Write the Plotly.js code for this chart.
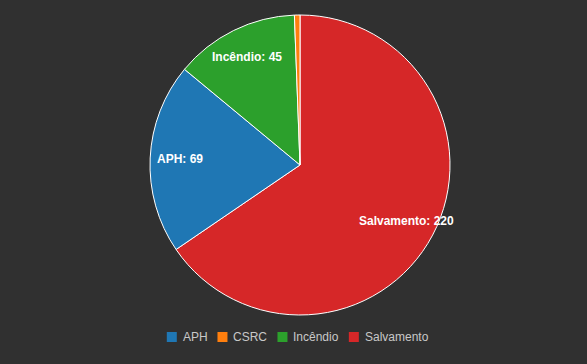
<!DOCTYPE html>
<html><head><meta charset="utf-8">
<script src="https://cdn.plot.ly/plotly-3.0.1.min.js"></script>
<style>html,body{margin:0;padding:0;background:#303030;}</style>
</head><body>
<div id="chart" style="width:587px;height:364px;"></div>
<script>
const labels = ["APH", "CSRC", "Incêndio", "Salvamento"];
const values = [69, 2, 45, 220];
const colors = ["#1f77b4", "#ff7f0e", "#2ca02c", "#d62728"];

const W = 587, H = 364;
const M = {t: 15, b: 49, l: 13, r: 0};
const pw = W - M.l - M.r, ph = H - M.t - M.b;
const R = Math.min(pw, ph) / 2;
const cx = M.l + pw / 2, cy = M.t + ph / 2;
const px2x = p => (p - M.l) / pw;
const py2y = p => (H - M.b - p) / ph;

// slice labels on bisectors (same order as plotly: sorted desc, clockwise from top)
const total = values.reduce((a, b) => a + b, 0);
const order = values.map((v, i) => i).sort((a, b) => values[b] - values[a]);
const annotations = [];
let cum = 0;
order.forEach(i => {
  const mid = (cum + values[i] / 2) / total * 2 * Math.PI;
  cum += values[i];
  if (values[i] / total < 0.02) return;
  const x = cx + 0.8 * R * Math.sin(mid);
  const y = cy - 0.8 * R * Math.cos(mid);
  annotations.push({
    xref: "paper", yref: "paper", x: px2x(x), y: py2y(y),
    xanchor: "center", yanchor: "middle", showarrow: false,
    text: "<b>" + labels[i] + ": " + values[i] + "</b>",
    font: {family: "Arial", size: 12, color: "#ffffff"}
  });
});

// custom legend
const ctx = document.createElement("canvas").getContext("2d");
ctx.font = "12px Arial";
const sw = 10, sgap = 6, igap = 10;
const widths = labels.map(l => ctx.measureText(l).width);
const totalW = widths.reduce((a, w) => a + sw + sgap + w, 0) + igap * (labels.length - 1);
let lx = 297.5 - totalW / 2;
const ly = 337;
const shapes = [];
labels.forEach((l, i) => {
  shapes.push({
    type: "rect", xref: "paper", yref: "paper",
    x0: px2x(lx), x1: px2x(lx + sw), y0: py2y(ly + 5), y1: py2y(ly - 5),
    fillcolor: colors[i], line: {width: 0}
  });
  annotations.push({
    xref: "paper", yref: "paper", x: px2x(lx + sw + sgap), y: py2y(ly),
    xanchor: "left", yanchor: "middle", showarrow: false,
    text: l, font: {family: "Arial", size: 12, color: "#c8c8c8"},
    borderpad: 0, xshift: -1
  });
  lx += sw + sgap + widths[i] + igap;
});

Plotly.newPlot("chart", [{
  type: "pie",
  labels: labels,
  values: values,
  marker: {colors: colors, line: {color: "#ffffff", width: 1}},
  textinfo: "none",
  direction: "clockwise",
  sort: true,
  hoverinfo: "label+value"
}], {
  width: W, height: H,
  paper_bgcolor: "#303030",
  plot_bgcolor: "#303030",
  font: {family: "Arial", color: "#cccccc", size: 12},
  margin: M,
  showlegend: false,
  annotations: annotations,
  shapes: shapes
}, {displayModeBar: false});
</script>
</body></html>
